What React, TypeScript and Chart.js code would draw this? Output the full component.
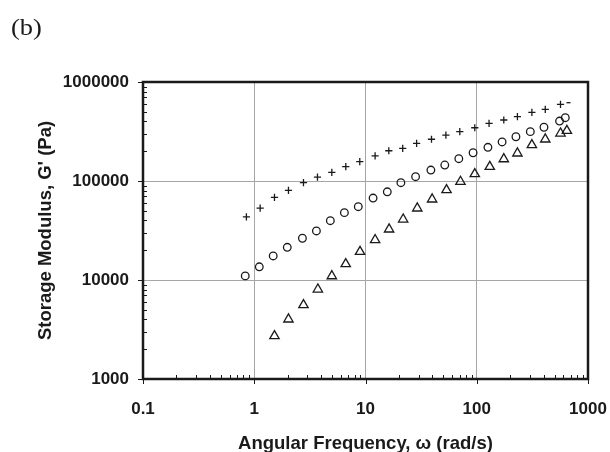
import React, { useEffect, useRef } from "react";
import { Chart, registerables } from "chart.js";
Chart.register(...registerables);

// Angular frequency (rad/s) and storage modulus G' (Pa), three samples
const crossFreq = [0.85, 1.13, 1.52, 2.03, 2.77, 3.7, 4.98, 6.65, 8.88, 12.2, 16.2, 21.6, 28.8, 39.2, 52.8, 70.4, 96, 129, 175, 232, 313, 413, 566, 668];
const crossG = [43500, 53300, 68400, 80500, 96100, 109600, 122400, 139400, 156600, 179000, 202000, 214000, 240000, 264000, 291000, 315000, 345000, 382000, 413000, 446000, 494000, 530000, 595000, 618000];

const circleFreq = [0.83, 1.11, 1.48, 1.98, 2.71, 3.62, 4.83, 6.46, 8.61, 11.7, 15.7, 20.8, 28.2, 38.7, 51.6, 69, 92.7, 126, 169, 225, 303, 402, 555, 625];
const circleG = [11000, 13600, 17500, 21400, 26400, 31300, 39700, 47900, 55000, 67300, 77800, 96100, 110500, 129000, 145000, 168000, 193000, 219000, 248000, 280000, 315000, 349000, 403000, 436000];

const triFreq = [1.52, 2.03, 2.77, 3.73, 4.98, 6.64, 8.93, 12.2, 16.3, 21.8, 29.2, 39.7, 53.5, 71.4, 96, 131, 175, 232, 313, 413, 566, 646];
const triG = [2720, 4010, 5590, 8050, 10960, 14500, 19300, 25400, 32500, 41000, 53000, 65300, 81100, 98400, 117800, 139400, 166700, 190400, 231000, 263700, 303000, 322000];

const xTicks = [0.1, 1, 10, 100, 1000];
const yTicks = [1000, 10000, 100000, 1000000];

const xTitle = "Angular Frequency, \u03c9 (rad/s)";
const yTitle = "Storage Modulus, G' (Pa)";
const panelLabel = "(b)";

const INK = "#1a1a1a";
const TICK_FONT = { family: "'Liberation Sans', Arial, sans-serif", weight: "bold" as const, size: 17 };
const TITLE_FONT = { family: "'Liberation Sans', Arial, sans-serif", weight: "bold" as const, size: 18.5 };

const frame = {
  id: "frame",
  afterDraw(chart: any) {
    const { ctx, chartArea: a, scales } = chart;
    const xs = scales.x;
    const ys = scales.y;
    ctx.save();
    ctx.strokeStyle = INK;
    ctx.lineWidth = 1;
    ctx.beginPath();
    for (let d = 0; d < xTicks.length; d++) {
      const base = xTicks[d];
      const px = Math.round(xs.getPixelForValue(base)) + 0.5;
      ctx.moveTo(px, a.bottom);
      ctx.lineTo(px, a.bottom + 5);
      if (d < xTicks.length - 1) {
        for (let m = 2; m <= 9; m++) {
          const p = Math.round(xs.getPixelForValue(base * m)) + 0.5;
          ctx.moveTo(p, a.bottom);
          ctx.lineTo(p, a.bottom - 4);
        }
      }
    }
    for (let d = 0; d < yTicks.length; d++) {
      const base = yTicks[d];
      const py = Math.round(ys.getPixelForValue(base)) + 0.5;
      ctx.moveTo(a.left, py);
      ctx.lineTo(a.left - 5, py);
      if (d < yTicks.length - 1) {
        for (let m = 2; m <= 9; m++) {
          const p = Math.round(ys.getPixelForValue(base * m)) + 0.5;
          ctx.moveTo(a.left, p);
          ctx.lineTo(a.left + 4, p);
        }
      }
    }
    ctx.stroke();
    ctx.lineWidth = 2.5;
    ctx.strokeRect(a.left, a.top, a.right - a.left, a.bottom - a.top);
    ctx.restore();
  },
};

export default function App() {
  const ref = useRef<HTMLCanvasElement | null>(null);

  useEffect(() => {
    if (!ref.current) return;
    const mk = (fx: number[], gy: number[]) => fx.map((f, i) => ({ x: f, y: gy[i] }));
    const last = crossFreq.length - 1;
    const crossStyles = crossFreq.map((_, i) => (i === last ? "line" : "cross"));
    const crossRadii = crossFreq.map((_, i) => (i === last ? 2 : 3.6));
    const chart = new Chart(ref.current, {
      type: "scatter",
      data: {
        datasets: [
          {
            data: mk(crossFreq, crossG),
            pointStyle: crossStyles as any,
            pointRadius: crossRadii,
            borderColor: INK,
            backgroundColor: "transparent",
            borderWidth: 1.3,
          },
          {
            data: mk(circleFreq, circleG),
            pointStyle: "circle",
            pointRadius: 3.8,
            borderColor: INK,
            backgroundColor: "transparent",
            borderWidth: 1.3,
          },
          {
            data: mk(triFreq, triG),
            pointStyle: "triangle",
            pointRadius: 5.4,
            borderColor: INK,
            backgroundColor: "transparent",
            borderWidth: 1.3,
          },
        ],
      },
      options: {
        animation: false,
        responsive: false,
        layout: { padding: { top: 82, right: 22, left: 0, bottom: -3 } },
        plugins: { legend: { display: false }, tooltip: { enabled: false } },
        scales: {
          x: {
            type: "logarithmic",
            min: 0.1,
            max: 1000,
            afterBuildTicks: (s: any) => {
              s.ticks = xTicks.map((v) => ({ value: v, major: true }));
            },
            afterFit: (s: any) => {
              s.height = 76;
            },
            grid: { color: "#a6a6a6", lineWidth: 1, drawTicks: true, tickLength: 20, tickColor: "transparent" },
            border: { display: false },
            ticks: {
              color: INK,
              font: TICK_FONT,
              padding: 0,
              autoSkip: false,
              maxRotation: 0,
              callback: (v: any) => String(v),
            },
            title: { display: true, text: xTitle, color: INK, font: TITLE_FONT, padding: { top: 0, bottom: 0 } },
          },
          y: {
            type: "logarithmic",
            min: 1000,
            max: 1000000,
            afterBuildTicks: (s: any) => {
              s.ticks = yTicks.map((v) => ({ value: v, major: true }));
            },
            afterFit: (s: any) => {
              s.width = 143;
            },
            grid: { color: "#a6a6a6", lineWidth: 1, drawTicks: false },
            border: { display: false },
            ticks: {
              color: INK,
              font: TICK_FONT,
              padding: 14,
              autoSkip: false,
              callback: (v: any) => String(v),
            },
            title: { display: true, text: yTitle, color: INK, font: TITLE_FONT, padding: { top: 35, bottom: 0 } },
          },
        },
      },
      plugins: [frame],
    });
    return () => chart.destroy();
  }, []);

  return (
    <div style={{ position: "absolute", left: 0, top: 0, width: 610, height: 452, background: "#fff" }}>
      <div
        style={{
          position: "absolute",
          left: 11,
          top: 16,
          fontFamily: "'Liberation Serif', 'Times New Roman', serif",
          fontSize: 23,
          lineHeight: "23px",
          color: INK,
          transform: "scaleX(1.15)",
          transformOrigin: "left top",
        }}
      >
        {panelLabel}
      </div>
      <canvas ref={ref} width={610} height={452} style={{ display: "block" }} />
    </div>
  );
}
